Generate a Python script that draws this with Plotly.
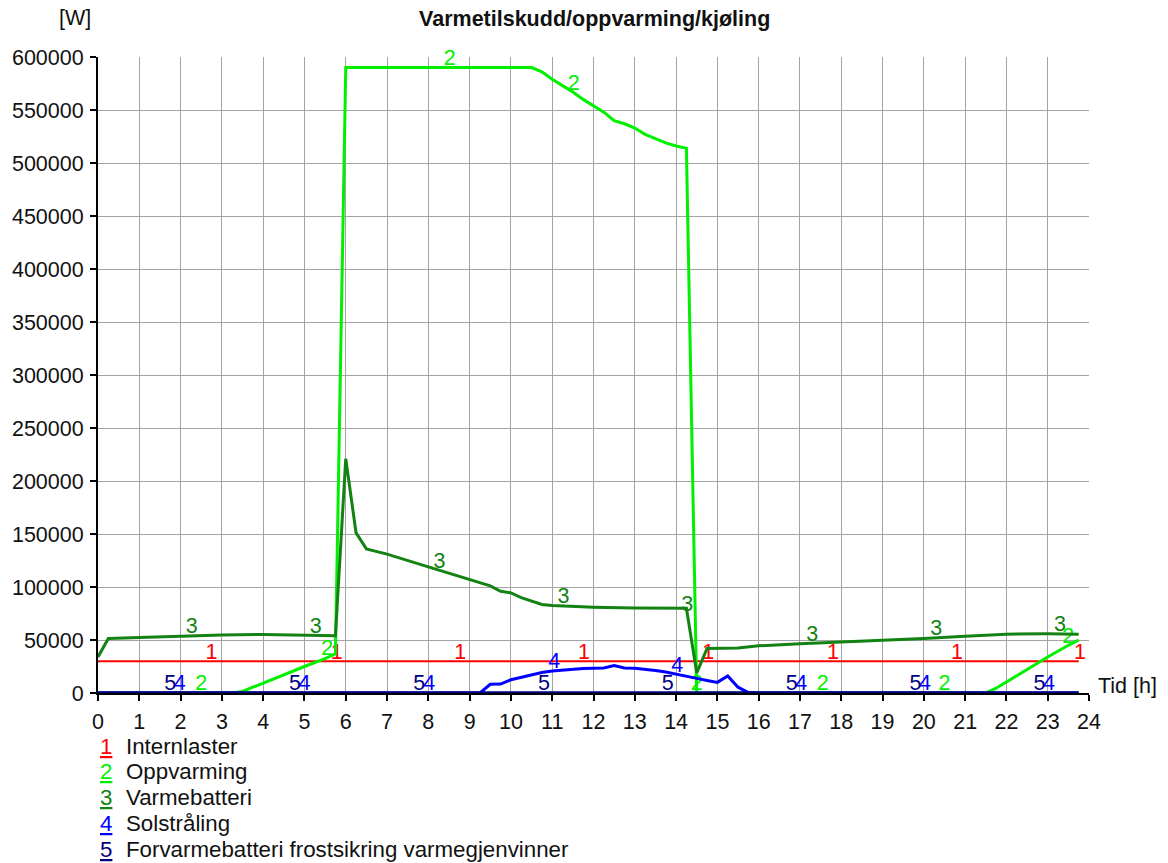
import numpy as np
import plotly.graph_objects as go

# Hourly heat balance, quarter-hour samples (hours, watts)
hours_intern = [0, 23.75]
internlaster = [30000, 30000]

hours_oppv = [0, 3.25, 3.5, 4.0, 4.5, 5.0, 5.5, 5.75, 6.0, 10.5, 10.75, 11.0, 11.25,
              11.5, 11.75, 12.0, 12.25, 12.5, 12.75, 13.0, 13.25, 13.5, 13.75, 14.0,
              14.25, 14.5, 21.5, 21.75, 22.0, 22.5, 23.0, 23.5, 23.75]
oppvarming = [0, 0, 1500, 9500, 17000, 25000, 32500, 37000, 590000, 590000, 586000,
              579000, 573000, 567000, 560000, 554000, 548000, 540000, 537000, 533000,
              527000, 523000, 519000, 516000, 514000, 0, 0, 4500, 10500, 22000, 34000,
              45000, 50000]

hours_varme = [0, 0.25, 1.0, 2.0, 3.0, 4.0, 5.0, 5.75, 6.0, 6.25, 6.5, 7.0, 8.0, 9.0,
               9.25, 9.5, 9.75, 10.0, 10.25, 10.5, 10.75, 11.0, 12.0, 13.0, 14.25, 14.5,
               14.75, 15.5, 16.0, 17.0, 18.0, 19.0, 20.0, 21.0, 22.0, 23.0, 23.75]
varmebatteri = [34000, 51500, 52300, 53800, 54800, 55200, 54600, 54000, 221000, 151000,
                136000, 131000, 119000, 107000, 104500, 101000, 96000, 94500, 90000,
                86500, 83500, 82500, 81000, 80300, 80000, 19000, 42000, 42500, 44500,
                46500, 48000, 49500, 51500, 53500, 55500, 55800, 55500]

hours_sol = [0, 9.25, 9.5, 9.75, 10.0, 10.25, 10.5, 10.75, 11.0, 11.25, 11.5, 11.75,
             12.0, 12.25, 12.5, 12.75, 13.0, 13.25, 13.5, 13.75, 14.0, 14.25, 14.5,
             14.75, 15.0, 15.25, 15.5, 15.75, 16.0, 23.75]
solstraling = [0, 0, 8200, 8400, 12500, 15000, 17500, 19300, 20800, 21800, 22600, 23100,
               23400, 23700, 25800, 23600, 23300, 22600, 21300, 19800, 18000, 16000,
               13800, 11800, 10000, 16000, 5500, 500, 0, 0]

hours_frost = [0, 23.75]
forvarme = [0, 0]

# Positions (hours) of the numbered curve labels
label_hours_1 = [2.75, 5.78, 8.77, 11.77, 14.78, 17.8, 20.8, 23.78]
label_hours_2 = [2.5, 5.55, 8.52, 11.52, 14.5, 17.55, 20.5, 23.5]
label_hours_3 = [2.27, 5.27, 8.27, 11.27, 14.27, 17.3, 20.3, 23.3]
label_hours_4 = [1.98, 5.0, 8.02, 11.05, 14.03, 17.03, 20.03, 23.03]
label_hours_5 = [1.75, 4.77, 7.78, 10.8, 13.8, 16.8, 19.8, 22.8]

series_names = ["Internlaster", "Oppvarming", "Varmebatteri", "Solstråling",
                "Forvarmebatteri frostsikring varmegjenvinner"]
series_colors = ["#ff0000", "#00f000", "#128212", "#0000ff", "#000080"]
series_widths = [2, 3, 3, 3, 3.5]

x_ticks = list(range(0, 25))
y_ticks = list(range(0, 600001, 50000))

FONT = "Liberation Sans, Arial, sans-serif"
FS = 21.5
FS_LEGEND = 22.3

# Plot area in pixels: left 98, right 1089, top 57, bottom 693
L, R, T, B = 98, 1089, 57, 693
W, H = 1168, 863
Y_MAX = 600000
# curve labels sit just above their line: lift by ~8 px in data units
LABEL_LIFT = 8 * Y_MAX / (B - T)

series = [
    (hours_intern, internlaster, label_hours_1),
    (hours_oppv, oppvarming, label_hours_2),
    (hours_varme, varmebatteri, label_hours_3),
    (hours_sol, solstraling, label_hours_4),
    (hours_frost, forvarme, label_hours_5),
]

fig = go.Figure()
for i, (hx, vy, lh) in enumerate(series):
    color = series_colors[i]
    fig.add_trace(go.Scatter(
        x=hx, y=vy, mode="lines", name=series_names[i],
        line=dict(color=color, width=series_widths[i]),
        showlegend=False, hoverinfo="skip"))
    ly = np.interp(lh, hx, vy) + LABEL_LIFT
    fig.add_trace(go.Scatter(
        x=lh, y=ly, mode="text", text=[str(i + 1)] * len(lh),
        textposition="middle center", cliponaxis=False,
        textfont=dict(family=FONT, size=FS, color=color),
        showlegend=False, hoverinfo="skip"))

axis_common = dict(
    showline=True, linecolor="black", linewidth=2,
    ticks="outside", ticklen=6, tickwidth=2, tickcolor="black",
    showgrid=True, gridcolor="#a4a4a4", gridwidth=1,
    zeroline=False, automargin=False,
    tickfont=dict(family=FONT, size=FS, color="#111111"),
)

fig.update_layout(
    width=W, height=H,
    margin=dict(l=L, r=W - R, t=T, b=H - B, pad=0),
    template="none",
    paper_bgcolor="white", plot_bgcolor="white",
    showlegend=False,
    title=dict(text="<b>Varmetilskudd/oppvarming/kjøling</b>",
               font=dict(family=FONT, size=FS, color="#111111"),
               x=(R + L) / 2 / W + 0.001, xanchor="center", xref="container",
               y=1 - 18 / H, yanchor="middle", yref="container"),
    xaxis=dict(range=[0, 24], tickvals=x_ticks, ticktext=[str(t) for t in x_ticks],
               ticklabelstandoff=2, **axis_common),
    yaxis=dict(range=[0, Y_MAX], tickvals=y_ticks, ticktext=[str(t) for t in y_ticks],
               ticklabelstandoff=2, **axis_common),
    # duplicate axes carry the inner half of the crossing tick marks
    xaxis2=dict(range=[0, 24], tickvals=x_ticks, overlaying="x", anchor="y",
                side="bottom", ticks="inside", ticklen=6, tickwidth=2,
                tickcolor="black", showticklabels=False, showgrid=False,
                showline=False, zeroline=False),
    yaxis2=dict(range=[0, Y_MAX], tickvals=y_ticks, overlaying="y", anchor="x",
                side="left", ticks="inside", ticklen=6, tickwidth=2,
                tickcolor="black", showticklabels=False, showgrid=False,
                showline=False, zeroline=False),
)

pw, ph = R - L, B - T


def px_x(p):
    return (p - L) / pw


def px_y(p):
    return (B - p) / ph


annotations = [
    dict(text="[W]", x=px_x(93), y=px_y(18), xanchor="right", yanchor="middle"),
    dict(text="Tid [h]", x=px_x(1096), y=px_y(686), xanchor="left", yanchor="middle"),
]
for i, name in enumerate(series_names):
    row_y = 746 + i * 25.8
    annotations.append(dict(
        text=f"<u>{i + 1}</u>", x=px_x(106), y=px_y(row_y), xanchor="center",
        yanchor="middle", font=dict(family=FONT, size=FS_LEGEND, color=series_colors[i])))
    annotations.append(dict(
        text=name, x=px_x(124), y=px_y(row_y), xanchor="left", yanchor="middle",
        font=dict(family=FONT, size=FS_LEGEND, color="#111111")))

for a in annotations:
    a.update(xref="paper", yref="paper", showarrow=False)
    a.setdefault("font", dict(family=FONT, size=FS, color="#111111"))
fig.update_layout(annotations=annotations)

fig.write_html("out.html")
